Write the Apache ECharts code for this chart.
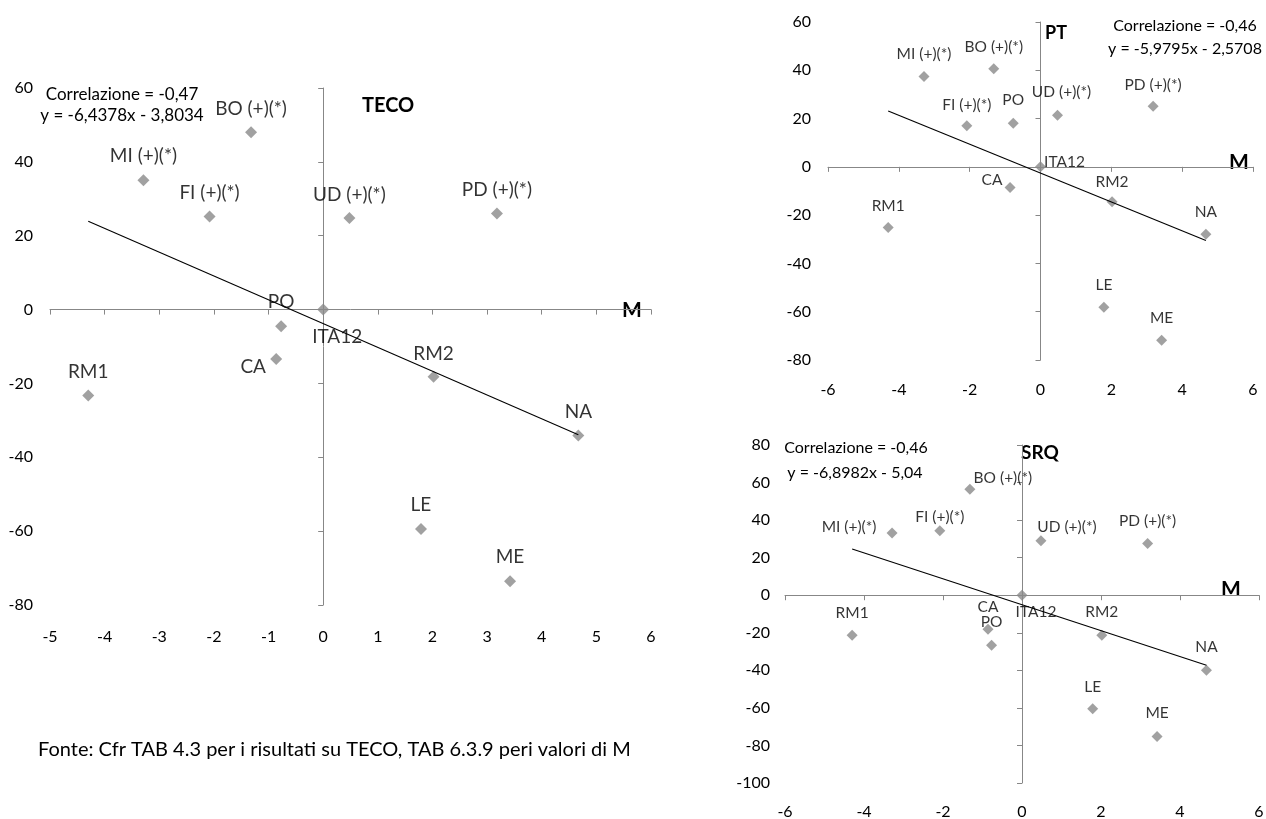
<!DOCTYPE html>
<html><head><meta charset="utf-8">
<script src="https://cdn.jsdelivr.net/npm/echarts@6/dist/echarts.min.js"></script>
<style>html,body{margin:0;padding:0;background:#fff}#c{width:1266px;height:819px}</style>
</head><body><div id="c"></div>
<script>
// ---- data ----
const names = ['RM1','MI (+)(*)','FI (+)(*)','BO (+)(*)','CA','PO','ITA12','UD (+)(*)','RM2','PD (+)(*)','LE','ME','NA'];
const mValues = [-4.30,-3.29,-2.08,-1.32,-0.86,-0.77,0,0.48,2.02,3.18,1.79,3.42,4.67];
const tecoValues = [-23.3,35.0,25.2,48.0,-13.4,-4.5,0,24.8,-18.2,26.0,-59.4,-73.6,-34.1];
const ptValues = [-25.1,37.4,17.0,40.6,-8.5,18.1,0,21.4,-14.5,25.1,-58.2,-71.8,-27.9];
const srqValues = [-21.3,33.2,34.3,56.4,-18.1,-26.7,0,29.0,-21.3,27.6,-60.4,-75.2,-40.0];
const trendX = [-4.30, 4.67];
const tecoTrendY = [23.9, -33.9];
const ptTrendY = [23.1, -30.5];
const srqTrendY = [24.6, -37.3];
const tecoEquation = ['Correlazione = -0,47', 'y = -6,4378x - 3,8034'];
const ptEquation = ['Correlazione = -0,46', 'y = -5,9795x - 2,5708'];
const srqEquation = ['Correlazione = -0,46', 'y = -6,8982x - 5,04'];
const sourceNote = 'Fonte: Cfr TAB 4.3 per i risultati su TECO, TAB 6.3.9 peri valori di M';

// ---- styles (label offsets relative to marker centre) ----
const tecoOffsets = {'CA':[-23,8],'ITA12':[14,27],'BO (+)(*)':[0,-23],'UD (+)(*)':[0,-23],'RM2':[0,-23]};
const ptOffsets = {'RM1':[0,-21],'FI (+)(*)':[0,-21],'BO (+)(*)':[0,-22],'UD (+)(*)':[4,-23],'PD (+)(*)':[0,-21],'ITA12':[24,-5],'CA':[-18,-7],'RM2':[0,-20],'NA':[0,-22],'LE':[0,-22],'ME':[0,-22]};
const srqOffsets = {'RM1':[0,-22],'CA':[0,-22],'LE':[0,-22],'PD (+)(*)':[0,-22],'ITA12':[14,17],'MI (+)(*)':[-43,-6],'FI (+)(*)':[0,-14],'BO (+)(*)':[33,-11],'UD (+)(*)':[26,-14]};

const FONT = 'Lato';
const AXIS_COLOR = '#878787';
const MARK_COLOR = '#8a8a8a';

function pts(ys, offsets, def) {
  return names.map((n, i) => ({
    name: n,
    value: [mValues[i], ys[i]],
    label: {offset: offsets[n] || def}
  }));
}

function axes(g, xr, yr, tickFs, xMargin, yMargin) {
  const common = {type:'value', gridIndex:g, splitLine:{show:false}};
  const xs = [
    Object.assign({}, common, {min:xr[0], max:xr[1], interval:xr[2], position:'bottom',
      axisLine:{show:false, onZero:false}, axisTick:{show:false},
      axisLabel:{margin:xMargin, fontSize:tickFs, color:'#000', fontFamily:FONT}}),
    Object.assign({}, common, {min:xr[0], max:xr[1], interval:xr[2], position:'top',
      axisLine:{show:true, onZero:true, lineStyle:{color:AXIS_COLOR, width:1}},
      axisTick:{show:true, inside:true, length:5, lineStyle:{color:AXIS_COLOR}},
      axisLabel:{show:false}})
  ];
  const ys = [
    Object.assign({}, common, {min:yr[0], max:yr[1], interval:yr[2], position:'left',
      axisLine:{show:false, onZero:false}, axisTick:{show:false},
      axisLabel:{margin:yMargin, fontSize:tickFs, color:'#000', fontFamily:FONT}}),
    Object.assign({}, common, {min:yr[0], max:yr[1], interval:yr[2], position:'right',
      axisLine:{show:true, onZero:true, lineStyle:{color:AXIS_COLOR, width:1}},
      axisTick:{show:true, inside:true, length:5, lineStyle:{color:AXIS_COLOR}},
      axisLabel:{show:false}})
  ];
  return {xs, ys};
}

const a0 = axes(0, [-5,6,1], [-80,60,20], 16, 24, 17);
const a1 = axes(1, [-6,6,2], [-80,60,20], 16, 22, 17);
const a2 = axes(2, [-6,6,2], [-100,80,20], 16, 21, 15);

function scatter(xi, yi, ys, offsets, def, fs, size) {
  return {
    type:'scatter', xAxisIndex:xi, yAxisIndex:yi, symbol:'diamond', symbolSize:size,
    itemStyle:{color:MARK_COLOR}, z:2,
    label:{show:true, position:'inside', formatter:'{b}', color:'#000', fontSize:fs, fontFamily:FONT},
    data: pts(ys, offsets, def)
  };
}
function trend(xi, yi, ty) {
  return {
    type:'line', xAxisIndex:xi, yAxisIndex:yi, symbol:'none', silent:true, z:3,
    lineStyle:{color:'#000', width:1.1},
    data: trendX.map((x, i) => [x, ty[i]])
  };
}

function txt(x, y, s, fs, bold, align) {
  return {type:'text', x:x, y:y, style:{text:s, x:0, y:0, fill:'#000',
    font:(bold?'bold ':'') + fs + 'px ' + FONT, textAlign:align||'left', textVerticalAlign:'middle'}};
}

const option = {
  animation:false,
  backgroundColor:'#fff',
  grid:[
    {left:50, top:88, width:601, height:517, outerBoundsMode:'none', containLabel:false},
    {left:828, top:22, width:425, height:338, outerBoundsMode:'none', containLabel:false},
    {left:785, top:445, width:474, height:338, outerBoundsMode:'none', containLabel:false}
  ],
  xAxis:[].concat(a0.xs, a1.xs, a2.xs),
  yAxis:[].concat(a0.ys, a1.ys, a2.ys),
  series:[
    scatter(0, 0, tecoValues, tecoOffsets, [0,-24], 19, 12),
    trend(0, 0, tecoTrendY),
    scatter(2, 2, ptValues, ptOffsets, [0,-23], 15.5, 11),
    trend(2, 2, ptTrendY),
    scatter(4, 4, srqValues, srqOffsets, [0,-23], 15.5, 11),
    trend(4, 4, srqTrendY)
  ],
  graphic:[
    txt(122, 95, tecoEquation[0], 17, false, 'center'),
    txt(122, 116, tecoEquation[1], 17, false, 'center'),
    txt(362, 106, 'TECO', 20, true),
    txt(622, 310, 'M', 21, true),
    txt(38, 750, sourceNote, 20, false),
    txt(1185, 26, ptEquation[0], 16, false, 'center'),
    txt(1185, 49, ptEquation[1], 16, false, 'center'),
    txt(1045, 33, 'PT', 18, true),
    txt(1229, 162, 'M', 21, true),
    txt(856, 448, srqEquation[0], 16, false, 'center'),
    txt(855, 473, srqEquation[1], 16, false, 'center'),
    txt(1021, 453, 'SRQ', 19, true),
    txt(1221, 589, 'M', 21, true)
  ]
};
const chart = echarts.init(document.getElementById('c'), null, {renderer:'canvas'});
chart.setOption(option);
</script>
</body></html>
